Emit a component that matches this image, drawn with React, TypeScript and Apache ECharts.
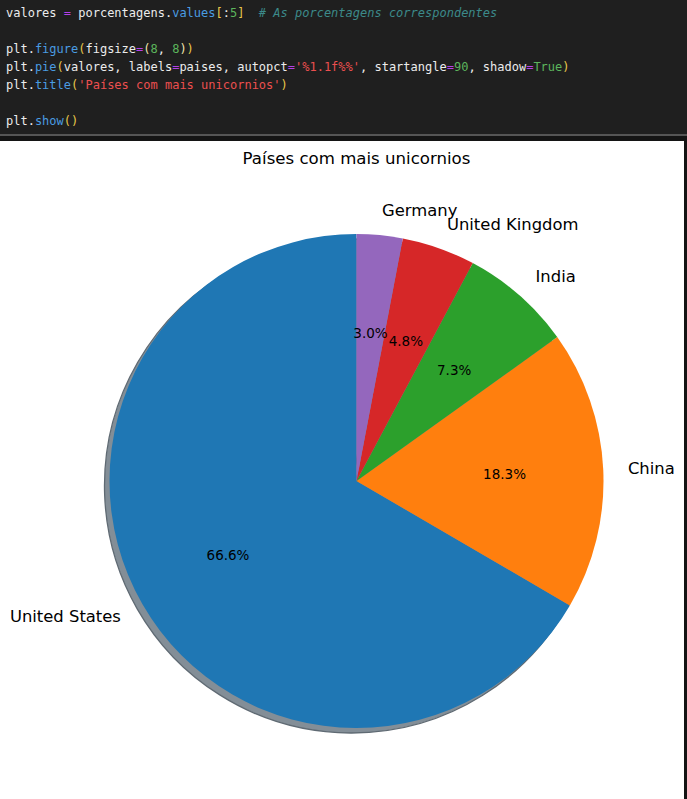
import React, { useEffect, useRef } from 'react';
import * as echarts from 'echarts';

const paises = ['United States', 'China', 'India', 'United Kingdom', 'Germany'];
const porcentagens = [66.6, 18.3, 7.3, 4.8, 3.0];
const cores = ['#1f77b4', '#ff7f0e', '#2ca02c', '#d62728', '#9467bd'];
const titulo = 'Países com mais unicornios';

const codeLines: [string, string][][] = [
  [['valores ', 'w'], ['=', 'p'], [' porcentagens.', 'w'], ['values', 'b'], ['[', 'y'], [':', 'w'], ['5', 'g'], [']', 'y'], ['  # As porcentagens correspondentes', 'c']],
  [],
  [['plt.', 'w'], ['figure', 'b'], ['(', 'y'], ['figsize', 'w'], ['=', 'p'], ['(', 'v'], ['8', 'g'], [', ', 'w'], ['8', 'g'], [')', 'v'], [')', 'y']],
  [['plt.', 'w'], ['pie', 'b'], ['(', 'y'], ['valores, labels', 'w'], ['=', 'p'], ['paises, autopct', 'w'], ['=', 'p'], ["'%1.1f%%'", 'r'], [', startangle', 'w'], ['=', 'p'], ['90', 'g'], [', shadow', 'w'], ['=', 'p'], ['True', 'g'], [')', 'y']],
  [['plt.', 'w'], ['title', 'b'], ['(', 'y'], ["'Países com mais unicornios'", 'r'], [')', 'y']],
  [],
  [['plt.', 'w'], ['show', 'b'], ['()', 'y']],
];

const mono = '"DejaVu Sans Mono", "Liberation Mono", monospace';
const mk = (fill: string, extra: any = {}) => ({ fill, fontFamily: mono, fontSize: 12, ...extra });
const codeRich: Record<string, any> = {
  w: mk('#ececec'),
  p: mk('#b540e8'),
  b: mk('#4a9ce2'),
  y: mk('#e8c84a'),
  v: mk('#f0e6b0'),
  g: mk('#5cb55c'),
  r: mk('#ec4f4f'),
  c: mk('#3c8a8a', { fontStyle: 'italic' }),
};

export default function App() {
  const ref = useRef<HTMLDivElement>(null);
  useEffect(() => {
    if (!ref.current) return;
    const chart = echarts.init(ref.current, null, { renderer: 'svg' });
    const data = paises.map((n, i) => ({ name: n, value: porcentagens[i], itemStyle: { color: cores[i] } }));
    const codeGraphics = codeLines
      .map((line, i) => ({ line, i }))
      .filter((o) => o.line.length > 0)
      .map(({ line, i }) => ({
        type: 'text',
        x: 6,
        y: 13 + i * 18,
        z: 5,
        silent: true,
        style: {
          text: line.map(([t, k]) => `{${k}|${t}}`).join(''),
          rich: codeRich,
          verticalAlign: 'middle',
          align: 'left',
          fontFamily: mono,
          fontSize: 12,
          fill: '#ececec',
        },
      }));
    const cx = 356.5;
    const cy = 481;
    const R = 247;
    chart.setOption({
      animation: false,
      graphic: [
        { type: 'rect', z: 0, silent: true, shape: { x: 0, y: 0, width: 687, height: 134 }, style: { fill: '#1f1f1f' } },
        { type: 'rect', z: 0, silent: true, shape: { x: 0, y: 134, width: 687, height: 2 }, style: { fill: '#555555' } },
        { type: 'rect', z: 0, silent: true, shape: { x: 0, y: 136, width: 687, height: 663 }, style: { fill: '#141414' } },
        { type: 'rect', z: 0, silent: true, shape: { x: 0, y: 141, width: 684, height: 658 }, style: { fill: '#ffffff' } },
        ...codeGraphics,
        {
          type: 'text', x: cx, y: 158, z: 5, silent: true,
          style: { text: titulo, align: 'center', verticalAlign: 'middle', fontFamily: '"DejaVu Sans"', fontSize: 16.6, fill: '#000' },
        },
      ],
      series: [
        {
          type: 'pie',
          z: 1,
          silent: true,
          center: [cx - 5, cy + 5],
          radius: R,
          startAngle: 90,
          clockwise: false,
          label: { show: false },
          labelLine: { show: false },
          emphasis: { disabled: true },
          itemStyle: { color: '#838e97', borderColor: '#5f6a73', borderWidth: 1.3 },
          data: porcentagens.map((v, i) => ({ name: paises[i], value: v })),
        },
        {
          type: 'pie',
          z: 2,
          silent: true,
          center: [cx, cy],
          radius: R,
          startAngle: 90,
          clockwise: false,
          avoidLabelOverlap: false,
          labelLayout: { hideOverlap: false },
          emphasis: { disabled: true },
          label: {
            show: true,
            position: 'outside',
            formatter: '{b}',
            fontFamily: '"DejaVu Sans"',
            fontSize: 16.4,
            color: '#000',
            distanceToLabelLine: 0,
          },
          labelLine: { show: false, length: R * 0.1, length2: 0 },
          itemStyle: { borderWidth: 0 },
          data,
        },
        {
          type: 'pie',
          z: 3,
          silent: true,
          center: [cx, cy],
          radius: [R * 0.4 - 3, R * 0.8 - 3],
          startAngle: 90,
          clockwise: false,
          avoidLabelOverlap: false,
          labelLayout: { hideOverlap: false },
          emphasis: { disabled: true },
          label: {
            show: true,
            position: 'inside',
            formatter: (p: any) => `${Number(p.value).toFixed(1)}%`,
            fontFamily: '"DejaVu Sans"',
            fontSize: 13.5,
            color: '#000',
          },
          labelLine: { show: false },
          itemStyle: { color: 'rgba(0,0,0,0)', borderWidth: 0 },
          data: porcentagens.map((v, i) => ({ name: paises[i], value: v })),
        },
      ],
    });
    return () => chart.dispose();
  }, []);
  return (
    <div
      ref={ref}
      style={{ position: 'fixed', left: 0, top: 0, width: 687, height: 799, background: '#ffffff' }}
    />
  );
}
